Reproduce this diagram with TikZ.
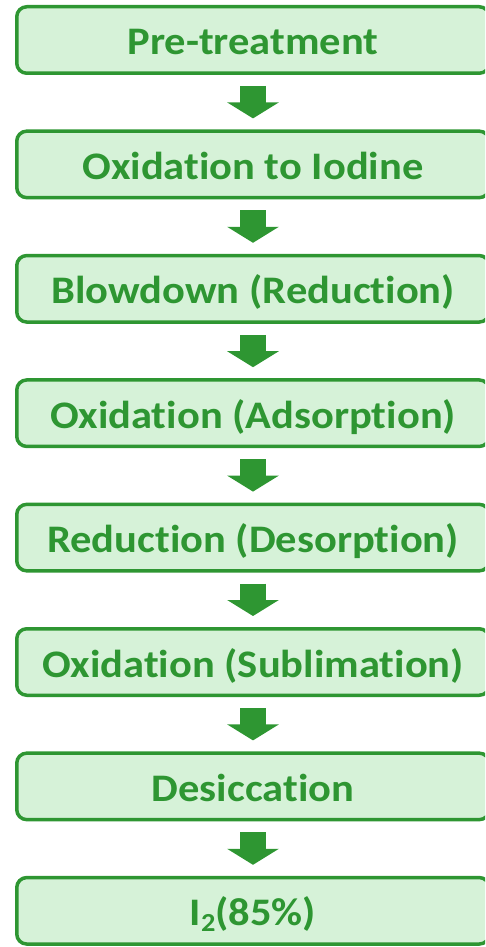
\documentclass[tikz,border=0pt]{standalone}
\usepackage{fontspec}
\setmainfont{Carlito}[RawFeature={-liga;-dlig}]
\newfontfamily\boxfont{Carlito}[FakeStretch=1.09, RawFeature={-liga;-dlig}]
\usetikzlibrary{arrows.meta}
\definecolor{gborder}{RGB}{46,150,50}
\definecolor{gfill}{RGB}{214,242,216}
\tikzset{
  stepbox/.style={draw=gborder, fill=gfill, line width=3.5pt, rounded corners=10pt,
    minimum width=472.5pt, minimum height=66.5pt, inner sep=0pt,
    text=gborder, font=\boxfont\fontsize{39}{39}\bfseries\selectfont,
    text height=30pt, text depth=0pt},
  flowarrow/.style={draw=gborder, line width=26pt,
    -{Triangle[width=51pt,length=16pt]}, shorten <=11pt, shorten >=11pt}
}
\begin{document}
\begin{tikzpicture}[x=1pt,y=-1pt]
\useasboundingbox (0,0) rectangle (485,947);
\clip (0,0) rectangle (485,947);
\node[stepbox] (b1) at (253,40) {Pre-treatment};
\node[stepbox] (b2) at (253,164.4) {Oxidation to Iodine};
\node[stepbox] (b3) at (253,288.8) {Blowdown (Reduction)};
\node[stepbox] (b4) at (253,413.2) {Oxidation (Adsorption)};
\node[stepbox] (b5) at (253,537.6) {Reduction (Desorption)};
\node[stepbox] (b6) at (253,662.0) {Oxidation (Sublimation)};
\node[stepbox] (b7) at (253,786.4) {Desiccation};
\node[stepbox] (b8) at (253,910.8) {I\raisebox{-6pt}{\fontsize{26}{26}\selectfont 2}(85\%)};
\foreach \a/\b in {b1/b2,b2/b3,b3/b4,b4/b5,b5/b6,b6/b7,b7/b8}
  \draw[flowarrow] (\a.south) -- (\b.north);
\end{tikzpicture}
\end{document}
